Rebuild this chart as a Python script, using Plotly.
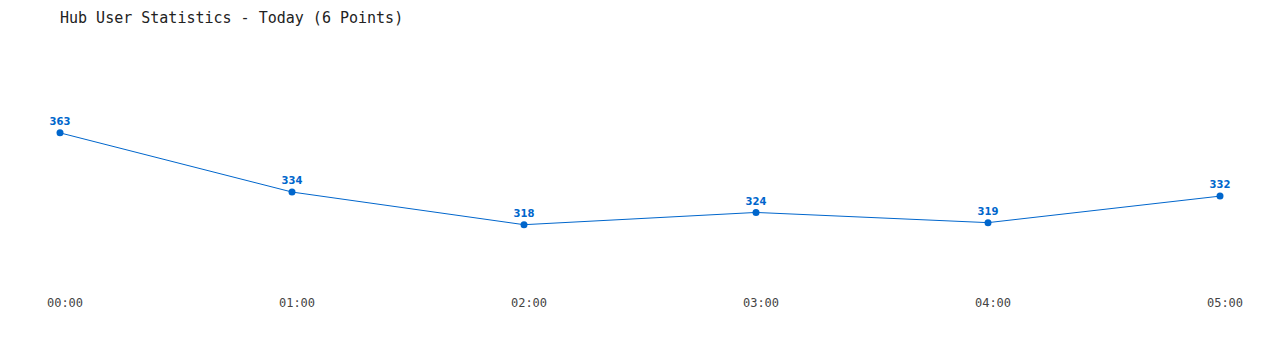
import plotly.graph_objects as go

hours = ["00:00", "01:00", "02:00", "03:00", "04:00", "05:00"]
users = [363, 334, 318, 324, 319, 332]
x_idx = list(range(len(hours)))

fig = go.Figure()
fig.add_trace(go.Scatter(
    x=x_idx, y=users,
    mode="lines+markers+text",
    text=[str(v) for v in users],
    textposition="top center",
    textfont=dict(family="DejaVu Sans", size=10, color="#0066cc", weight="bold"),
    line=dict(color="#0066cc", width=1),
    marker=dict(color="#0066cc", size=7),
    cliponaxis=False,
    hoverinfo="skip",
))

fig.update_layout(
    width=1280, height=350,
    margin=dict(l=60, r=60, t=40, b=70),
    paper_bgcolor="white", plot_bgcolor="white",
    showlegend=False,
    title=dict(
        text="Hub User Statistics - Today (6 Points)",
        x=60/1280, xanchor="left", y=1 - 18/350, yanchor="middle",
        font=dict(family="DejaVu Sans Mono", size=15, color="#222222"),
    ),
    xaxis=dict(
        range=[0, 5], tickmode="array", tickvals=x_idx, ticktext=hours,
        showgrid=False, zeroline=False, showline=False, ticks="",
        tickfont=dict(family="DejaVu Sans Mono", size=12, color="#444444"),
        ticklabelshift=5, ticklabelstandoff=14,
    ),
    yaxis=dict(
        range=[290.9, 408.5], visible=False,
        showgrid=False, zeroline=False,
    ),
)

fig.write_html("out.html")
